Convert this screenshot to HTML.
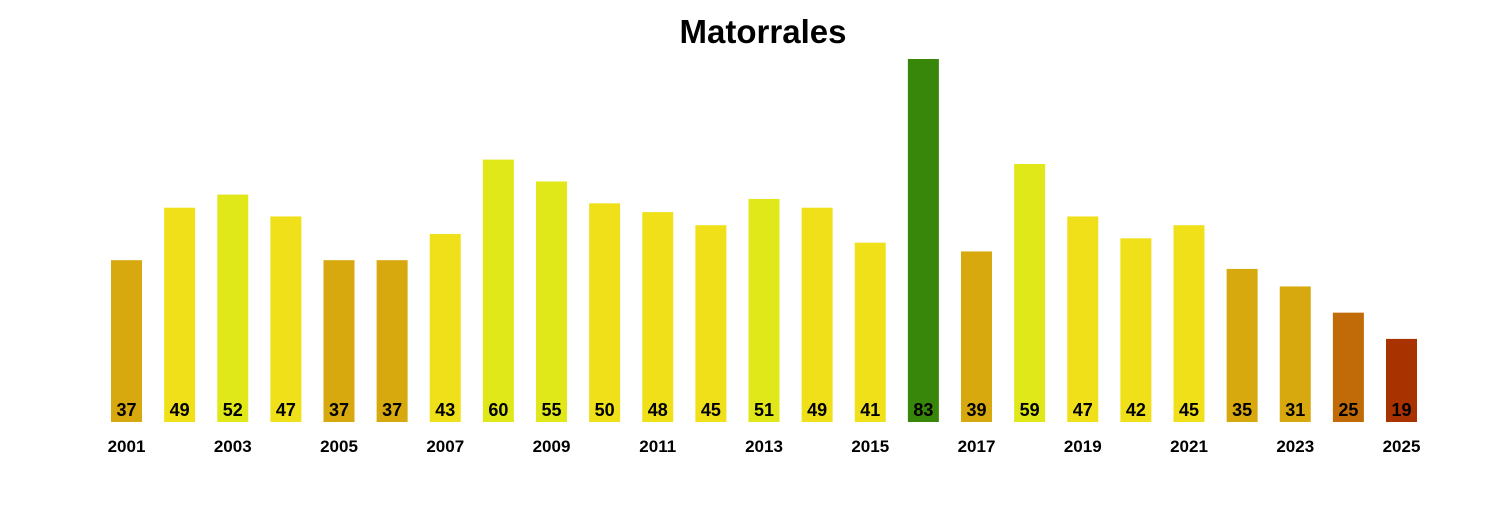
<!DOCTYPE html>
<html><head><meta charset="utf-8"><style>
body{margin:0;background:#fff;}
svg text{font-family:"Liberation Sans",sans-serif;font-weight:bold;}
</style></head><body>
<svg id="chart" width="1500" height="500" xmlns="http://www.w3.org/2000/svg">
<text x="763" y="43" text-anchor="middle" font-size="33">Matorrales</text>
<g id="bars"></g>
</svg>
<script>
const years=[2001,2002,2003,2004,2005,2006,2007,2008,2009,2010,2011,2012,2013,2014,2015,2016,2017,2018,2019,2020,2021,2022,2023,2024,2025];
const values=[37,49,52,47,37,37,43,60,55,50,48,45,51,49,41,83,39,59,47,42,45,35,31,25,19];
const baseY=422, pxPerUnit=363/83, x0=126.5, step=53.125, bw=31;
function xScale(i){return x0+i*step;}
function yScale(v){return baseY-v*pxPerUnit;}
function color(v){
  if(v>=70) return '#38860a';
  if(v>=51) return '#e0e81a';
  if(v>=41) return '#f0e01a';
  if(v>=31) return '#d8a90f';
  if(v>=22) return '#c06a08';
  return '#a83200';
}
const g=document.getElementById('bars');
const ns='http://www.w3.org/2000/svg';
values.forEach((v,i)=>{
  const r=document.createElementNS(ns,'rect');
  
  
  r.setAttribute('x',xScale(i)-bw/2);
  r.setAttribute('y',yScale(v));
  r.setAttribute('width',bw);
  r.setAttribute('height',baseY-yScale(v));
  r.setAttribute('fill',color(v));
  g.appendChild(r);
  const t=document.createElementNS(ns,'text');
  
  
  t.setAttribute('x',xScale(i));
  t.setAttribute('y',416);
  t.setAttribute('text-anchor','middle');
  t.setAttribute('font-size','18');
  t.textContent=v;
  g.appendChild(t);
  if(i%2===0){
    const y=document.createElementNS(ns,'text');
    
    
    y.setAttribute('x',xScale(i));
    y.setAttribute('y',452);
    y.setAttribute('text-anchor','middle');
    y.setAttribute('font-size','17');
    y.textContent=years[i];
    g.appendChild(y);
  }
});
</script>
</body></html>
